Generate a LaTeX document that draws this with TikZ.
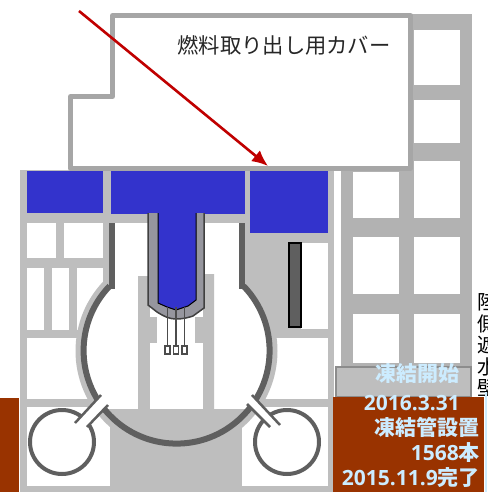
\documentclass[tikz,border=0pt]{standalone}
\usepackage{fontspec}
\setmainfont{Noto Sans CJK JP}
\newfontfamily\numfont{Open Sans}
\usetikzlibrary{arrows.meta}

\definecolor{wallgray}{HTML}{BEBEBE}
\definecolor{towergray}{HTML}{B2B2B2}
\definecolor{covergray}{HTML}{A6A6A6}
\definecolor{steelgray}{HTML}{5F5F5F}
\definecolor{vesselgray}{HTML}{96969E}
\definecolor{boxgray}{HTML}{8C8C8C}
\definecolor{waterblue}{HTML}{3333CC}
\definecolor{rustred}{HTML}{993300}
\definecolor{paleblue}{HTML}{CCECFF}
\definecolor{arrowred}{HTML}{C00000}

\tikzset{
	room/.style = {fill = white, draw = none},
	pool/.style = {fill = waterblue, draw = none},
	wall/.style = {fill = wallgray, draw = none},
	steel/.style = {draw = steelgray, line width = 6 pt},
	pipe/.style = {draw = steelgray, line width = 2.5 pt},
	rod/.style = {draw = black!70, line width = 1.5 pt},
	datelabel/.style = {anchor = east, inner sep = 0, text = paleblue, font = \fontsize{21}{21}\selectfont\bfseries}
}

\begin{document}
\begin{tikzpicture}[x = 1 pt, y = 1 pt, yscale = -1, > = latex]

	% Definitions

	\def\Cx{176.5}		% Containment centre
	\def\Cy{351}
	\def\Rc{93}		% Containment radius

	\useasboundingbox (0, 0) rectangle (487, 492);

	% Building body

	\draw [wall] (20, 170) rectangle (334, 492);

	% Tower on the right

	\draw [draw = none, fill = towergray] (341, 14) rectangle (472, 368);
	\foreach \ya/\yb in {172/218, 237/294, 314/363}
		\draw [room] (353, \ya) rectangle (399, \yb);
	\foreach \ya/\yb in {30/85, 100/143, 161/218, 237/294, 314/363}
		\draw [room] (414, \ya) rectangle (460, \yb);

	% Rooms, left side

	\draw [room] (27, 223) rectangle (56, 258);
	\draw [room] (64, 223) rectangle (103, 258);
	\draw [room] (27, 268) rectangle (44, 330);
	\draw [room] (52, 268) rectangle (69, 330);
	\draw [room] (77, 268) rectangle (103, 330);
	\draw [room] (27, 338) rectangle (100, 399);
	\draw [room] (27, 407) rectangle (110, 486);

	% Rooms, right side

	\draw [room] (301, 243) rectangle (328, 329);
	\draw [room] (250, 338) rectangle (328, 399);
	\draw [room] (242, 407) rectangle (328, 486);

	% Pools

	\draw [pool] (27, 171) rectangle (103, 213);
	\draw [pool] (111, 171) rectangle (245, 214);
	\draw [pool] (250, 171) rectangle (328, 233);

	% Bar beside the pool

	\draw [fill = steelgray, draw = black, line width = 1.2 pt] (289, 243) rectangle (301, 327);

	% Containment: halo, inside, floor and pedestal

	\draw [wall] (\Cx, \Cy) circle (101);
	\draw [wall] (100, 288) rectangle (252, 330);
	\draw [room] (\Cx, \Cy) circle (\Rc);
	\draw [room] (112, 223) rectangle (241, 300);

	\begin{scope}
		\clip (\Cx, \Cy) circle (\Rc);
		\draw [wall] (60, 409) rectangle (290, 450);
	\end{scope}

	\draw [wall] (138, 276) -- (176, 276) -- (176, 274) -- (214, 274) -- (214, 409) -- (138, 409) -- cycle;
	\draw [room] (150, 343) rectangle (203, 409);
	\draw [room] (157, 311) rectangle (195, 343);
	\draw [room] (150, 300) rectangle (203, 317);

	% Containment outline

	\draw [wall] (115, 214) rectangle (147, 223);
	\draw [wall] (204, 214) rectangle (238, 223);
	\draw [steel] (112, 223) -- (112, 289);
	\draw [steel] (241.5, 223) -- (241.5, 289);
	\draw [steel] (243.5, 286) arc [start angle = -44, end angle = 224, radius = \Rc];

	% Suppression rings

	\draw [draw = steelgray, line width = 4 pt] (62, 442) circle (32);
	\draw [draw = steelgray, line width = 4 pt] (287, 442) circle (32);

	% Pipes to the rings

	\draw [room] (75, 423) -- (101, 395) -- (108, 405) -- (87, 427) -- cycle;
	\draw [room] (252, 395) -- (280, 425) -- (270, 427) -- (247, 404) -- cycle;
	\draw [pipe] (75, 423) -- (101, 395);
	\draw [pipe] (87, 427) -- (108, 405);
	\draw [pipe] (252, 395) -- (280, 425);
	\draw [pipe] (247, 404) -- (270, 427);

	% Vessel

	\draw [fill = vesselgray, draw = black!75, line width = 1.5 pt] (148, 213) -- (148, 305) -- (157, 312) .. controls (165, 317) and (170, 319) .. (176, 319) .. controls (184, 319) and (190, 317) .. (193, 316) -- (204, 308) -- (204, 213);
	\draw [fill = waterblue, draw = black, line width = 1 pt] (158, 213) -- (158, 303) -- (167, 307) -- (176, 310) -- (188, 306) -- (196, 300) -- (196, 213);
	\draw [pool] (159, 210) rectangle (195, 216);

	% Rods

	\foreach \xr in {167.5, 176, 184.5} {
		\draw [rod] (\xr, 307) -- (\xr, 346);
		\draw [rod, fill = white] (\xr - 2.7, 346) rectangle (\xr + 2.7, 354);
	}

	% Side label, cut by the page edge

	\node (sidelabel) [anchor = north, inner sep = 0, align = center, font = \fontsize{20}{21.5}\selectfont] at (487, 293) {陸\\側\\遮\\水\\壁};

	% Cover

	\draw [fill = white, draw = covergray, line width = 5 pt, line join = round] (70.5, 168.5) -- (70.5, 96.5) -- (112.5, 96.5) -- (112.5, 15.5) -- (410.5, 15.5) -- (410.5, 168.5) -- cycle;
	\node (covertext) [inner sep = 0, text = black!85, font = \fontsize{21.3}{21.3}\selectfont] at (284, 45) {燃料取り出し用カバー};

	\coordinate (armstart) at (79, 11);
	\coordinate (armend) at (268, 166);
	\draw [-{Latex[length = 16pt, width = 14pt]}, draw = arrowred, fill = arrowred, line width = 2.6 pt] (armstart) -- (armend);

	% Bottom panels

	\draw [draw = none, fill = rustred] (0, 398) rectangle (19, 492);
	\draw [fill = wallgray, draw = boxgray, line width = 2.5 pt] (336.2, 367) rectangle (471, 397);
	\draw [draw = none, fill = rustred] (333, 397) rectangle (484, 492);
	\draw [draw = none, fill = paleblue] (484.5, 392) rectangle (487, 492);

	% Dates

	\node (freezestart) [datelabel] at (460, 374) {凍結開始};
	\node (freezedate) [datelabel] at (460, 403) {\numfont 2016.3.31};
	\node (pipeset) [datelabel] at (480, 427) {凍結管設置};
	\node (pipecount) [datelabel] at (480, 453) {{\numfont 1568}本};
	\node (pipedate) [datelabel] at (480, 478) {{\numfont 2015.11.9}完了};

\end{tikzpicture}
\end{document}
